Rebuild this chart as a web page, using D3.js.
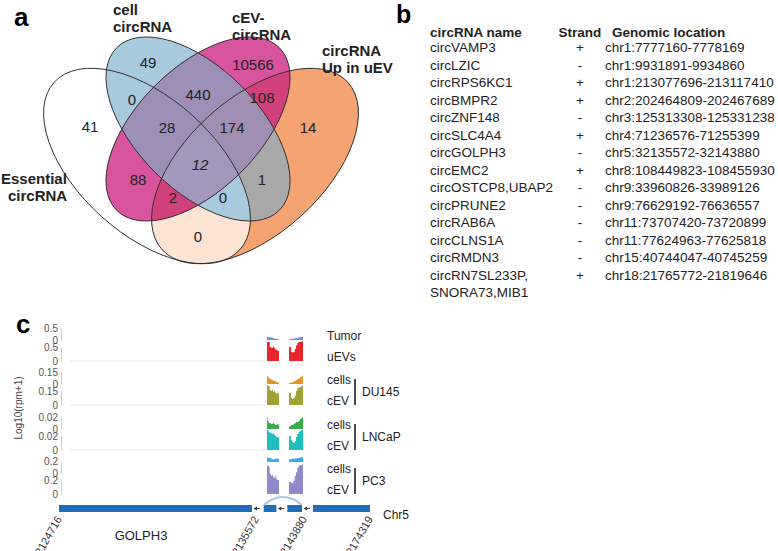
<!DOCTYPE html>
<html><head><meta charset="utf-8">
<script src="https://cdn.jsdelivr.net/npm/d3@7"></script>
<style>body{margin:0;background:#fff} svg{font-family:Arial,"Liberation Sans",sans-serif}</style>
</head><body><svg id="chart" width="778" height="551"></svg>
<script>
// ---------- Panel a data ----------
const vennSetLabels = [["Essential","circRNA"],["cell","circRNA"],["cEV-","circRNA"],["circRNA","Up in uEV"]];
const vennSetKeys = ["A","B","C","D"];
const vennRegions = ["A","B","C","D","AB","AC","AD","BC","BD","CD","ABC","ABD","ACD","BCD","ABCD"];
const vennCounts  = [41, 49, 10566, 14, 0, 88, 0, 440, 1, 108, 28, 0, 2, 174, 12];

// ---------- Panel b data ----------
const circNames = ["circVAMP3","circLZIC","circRPS6KC1","circBMPR2","circZNF148","circSLC4A4","circGOLPH3","circEMC2","circOSTCP8,UBAP2","circPRUNE2","circRAB6A","circCLNS1A","circRMDN3","circRN7SL233P,\nSNORA73,MIB1"];
const circStrands = ["+","-","+","+","-","+","-","+","-","-","-","-","-","+"];
const circLocations = ["chr1:7777160-7778169","chr1:9931891-9934860","chr1:213077696-213117410","chr2:202464809-202467689","chr3:125313308-125331238","chr4:71236576-71255399","chr5:32135572-32143880","chr8:108449823-108455930","chr9:33960826-33989126","chr9:76629192-76636557","chr11:73707420-73720899","chr11:77624963-77625818","chr15:40744047-40745259","chr18:21765772-21819646"];

// ---------- Panel c data ----------
const geneTicks = [32124716, 32135572, 32143880, 32174319];
const geneExons = [[32124716,32135350],[32136900,32139100],[32141000,32143540],[32148000,32174319]];
const covBlocks = [[32137476,32139553],[32141284,32143707]];
const trackNames = ["Tumor","uEVs","cells","cEV","cells","cEV","cells","cEV"];
const trackMax = [0.5,0.5,0.15,0.15,0.02,0.02,0.2,0.2];
const cellLines = ["DU145","LNCaP","PC3"];
const covTumor = [[0.15,0.13,0.125,0.11,0.10,0.09,0.075,0.065,0.055,0.045,0.04,0.04],[0.04,0.04,0.045,0.05,0.06,0.07,0.08,0.09,0.10,0.12,0.13,0.14]];
const covUEV   = [[0.68,0.68,0.68,0.5,0.48,0.46,0.52,0.46,0.42,0.39,0.37,0.36],[0.5,0.5,0.32,0.3,0.32,0.43,0.55,0.64,0.68,0.68,0.7,0.71]];
const covDU145cells = [[0.1,0.094,0.075,0.063,0.056,0.05,0.044,0.038,0.031,0.025,0.019,0.013],[0.013,0.015,0.02,0.025,0.03,0.04,0.05,0.06,0.07,0.08,0.095,0.11]];
const covDU145cEV   = [[0.21,0.21,0.2,0.16,0.15,0.16,0.14,0.15,0.13,0.12,0.13,0.12],[0.13,0.13,0.075,0.065,0.075,0.1,0.15,0.18,0.19,0.19,0.2,0.21]];
const covLNCaPcells = [[0.02,0.013,0.01,0.01,0.0083,0.0083,0.01,0.0083,0.0067,0.0067,0.0083,0.0067],[0.0033,0.005,0.0067,0.0067,0.0083,0.01,0.0117,0.0117,0.0133,0.0167,0.0183,0.02]];
const covLNCaPcEV   = [[0.0286,0.0286,0.0257,0.0243,0.0243,0.0229,0.0243,0.0214,0.02,0.0186,0.0186,0.0171],[0.02,0.02,0.0143,0.0114,0.01,0.0129,0.0186,0.0229,0.0257,0.0271,0.0286,0.0286]];
const covPC3cells = [[0.26,0.26,0.25,0.25,0.24,0.23,0.23,0.23,0.24,0.24,0.24,0.23],[0.23,0.23,0.23,0.24,0.24,0.24,0.24,0.25,0.25,0.26,0.26,0.26]];
const covPC3cEV   = [[0.41,0.41,0.39,0.29,0.26,0.27,0.24,0.23,0.26,0.21,0.2,0.2],[0.17,0.17,0.16,0.16,0.19,0.26,0.31,0.37,0.4,0.41,0.41,0.43]];
const trackCoverage = [covTumor,covUEV,covDU145cells,covDU145cEV,covLNCaPcells,covLNCaPcEV,covPC3cells,covPC3cEV];

// ---------- layout / style ----------
const svg = d3.select("#chart");
const defs = svg.append("defs");
const ellipses = {
  A:{cx:147,cy:166,rx:125,ry:68,rot:42},
  B:{cx:198,cy:129,rx:115,ry:61,rot:45},
  C:{cx:198,cy:129,rx:115,ry:61,rot:-45},
  D:{cx:255,cy:166,rx:125,ry:68,rot:-42}
};
const regionColor = {A:"#ffffff",B:"#a9c9dc",C:"#d8559e",D:"#f5a372",AB:"#a9c9dc",AC:"#d8559e",AD:"#fde3d3",
  BC:"#9d8fb5",BD:"#a8a8a8",CD:"#d2407d",ABC:"#9d8fb5",ABD:"#a9c9dc",ACD:"#d2407d",BCD:"#a08eb3",ABCD:"#a397bb"};
const regionPos = {A:[90,127],B:[148,63],C:[253,65],D:[308,128],AB:[132,100],AC:[138,180],AD:[198,237],BC:[198,95],
  BD:[262,180],CD:[262,98],ABC:[167,128],ABD:[223,198],ACD:[173,198],BCD:[232,128],ABCD:[200,165]};
const ellT = e => `translate(${e.cx},${e.cy}) rotate(${e.rot})`;

// ---------- Panel a ----------
const pa = svg.append("g");
vennSetKeys.forEach(k=>{
  const e = ellipses[k];
  defs.append("clipPath").attr("id","clip"+k).append("ellipse")
    .attr("transform",ellT(e)).attr("rx",e.rx).attr("ry",e.ry);
});
vennRegions.forEach((r)=>{
  let g = pa;
  const letters = r.split("");
  letters.slice(0,-1).forEach(l=>{ g = g.append("g").attr("clip-path",`url(#clip${l})`); });
  const e = ellipses[letters[letters.length-1]];
  g.append("ellipse").attr("transform",ellT(e)).attr("rx",e.rx).attr("ry",e.ry).attr("fill",regionColor[r]);
});
vennSetKeys.forEach(k=>{
  const e = ellipses[k];
  pa.append("ellipse").attr("transform",ellT(e)).attr("rx",e.rx).attr("ry",e.ry)
    .attr("fill","none").attr("stroke","#2b2b2b").attr("stroke-width",0.9);
});
vennRegions.forEach((r,i)=>{
  pa.append("text").attr("x",regionPos[r][0]).attr("y",regionPos[r][1]).attr("dy","0.35em")
    .attr("text-anchor","middle").attr("font-size",15).attr("fill","#222")
    .attr("font-style", r==="ABCD"?"italic":"normal").text(vennCounts[i]);
});
const setLabelPos = [[1,184],[113,15],[232,23],[322,56]];
const setLabelIndent = [[0,7],[0,0],[0,0],[0,0]];
vennSetLabels.forEach((lines,i)=>{
  lines.forEach((t,j)=>{
    pa.append("text").attr("x",setLabelPos[i][0]+setLabelIndent[i][j]).attr("y",setLabelPos[i][1]+j*17)
      .attr("font-size",15).attr("font-weight","bold").attr("fill","#222").text(t);
  });
});
svg.append("text").attr("x",14).attr("y",26).attr("font-size",26).attr("font-weight","bold").text("a");
svg.append("text").attr("x",396).attr("y",23).attr("font-size",25).attr("font-weight","bold").text("b");
svg.append("text").attr("x",16).attr("y",333).attr("font-size",26).attr("font-weight","bold").text("c");

// ---------- Panel b ----------
const pb = svg.append("g").attr("font-size",13.5).attr("fill","#222");
pb.append("text").attr("x",430).attr("y",37).attr("font-weight","bold").text("circRNA name");
pb.append("text").attr("x",580).attr("y",37).attr("font-weight","bold").attr("text-anchor","middle").text("Strand");
pb.append("text").attr("x",612).attr("y",37).attr("font-weight","bold").text("Genomic location");
const rowY = d3.scaleLinear().domain([0,1]).range([52,69.5]);
circNames.forEach((n,i)=>{
  n.split("\n").forEach((line,j)=>{
    pb.append("text").attr("x",430).attr("y",rowY(i)+j*17.5).text(line);
  });
  pb.append("text").attr("x",580).attr("y",rowY(i)).attr("text-anchor","middle").text(circStrands[i]);
  pb.append("text").attr("x",605).attr("y",rowY(i)).text(circLocations[i]);
});

// ---------- Panel c ----------
const pc = svg.append("g");
const x = d3.scaleLinear().domain(geneTicks).range([59,256,304,370]);
const trackColors = ["#7193d6","#e8252b","#e1962b","#9fa136","#3aab49","#1ebdbf","#37aee8","#8f8bca"];
const groupTop = [328,372,417,461];
const topClipBottom = [342,385,429,462];
const area = d3.area().curve(d3.curveStep);

trackCoverage.forEach((cov,t)=>{
  const gi = Math.floor(t/2), isTop = t%2===0;
  const G = groupTop[gi];
  const y = d3.scaleLinear().domain([0,trackMax[t]]).range(isTop ? [G+12,G] : [G+33,G+19]);
  const g = pc.append("g");
  if (isTop) {
    const id = "tclip"+gi;
    defs.append("clipPath").attr("id",id).append("rect").attr("x",0).attr("y",G-20).attr("width",400).attr("height",topClipBottom[gi]-(G-20));
    g.attr("clip-path",`url(#${id})`);
  } else if (gi<3) {
    pc.append("line").attr("x1",70).attr("x2",266).attr("y1",y(0)).attr("y2",y(0)).attr("stroke","#e2e2e2").attr("stroke-width",0.8);
  }
  cov.forEach((vals,b)=>{
    const [s,e] = covBlocks[b];
    const pts = vals.map((v,i)=>({p:s+(e-s)*i/(vals.length-1), v}));
    area.x(d=>x(d.p)).y0(y(0)).y1(d=>y(d.v));
    g.append("path").attr("d",area(pts)).attr("fill",trackColors[t]);
  });
  const ax = pc.append("g").attr("transform","translate(61,0)")
    .call(d3.axisLeft(y).tickValues([0,trackMax[t]]).tickFormat(d3.format("~g")).tickSize(0).tickSizeOuter(0).tickPadding(3));
  ax.select(".domain").attr("stroke","#cfcfcf");
  ax.selectAll("text").attr("font-size",10).attr("fill","#555").attr("font-family","Arial, Liberation Sans, sans-serif");
  pc.append("text").attr("x",327).attr("y",G+(isTop?8:29)).attr("dy","0.35em")
    .attr("font-size",12).attr("fill","#222").text(trackNames[t]);
});
cellLines.forEach((c,i)=>{
  const G = groupTop[i+1];
  pc.append("line").attr("x1",355).attr("x2",355).attr("y1",G+7).attr("y2",G+33).attr("stroke","#111").attr("stroke-width",1.5);
  pc.append("text").attr("x",362).attr("y",G+20).attr("dy","0.35em").attr("font-size",12).attr("fill","#222").text(c);
});
pc.append("text").attr("transform","translate(22,408) rotate(-90)").attr("text-anchor","middle")
  .attr("font-size",10).attr("fill","#444").text("Log10(rpm+1)");

// gene model
const gy = 505, gh = 7;
geneExons.forEach((ex,i)=>{
  pc.append("rect").attr("x",x(ex[0])).attr("y",gy).attr("width",x(ex[1])-x(ex[0])).attr("height",gh).attr("fill","#1f6db6");
  if (i<geneExons.length-1) {
    const a = x(ex[1]), b = x(geneExons[i+1][0]), cy = gy+gh/2;
    pc.append("path").attr("d",`M${a+5},${cy-2}L${a+1.5},${cy}L${a+5},${cy+2}Z`).attr("fill","#333");
    pc.append("line").attr("x1",a+5).attr("x2",b-1).attr("y1",cy).attr("y2",cy)
      .attr("stroke","#444").attr("stroke-width",1).attr("stroke-dasharray","3,3");
  }
});
{
  const a = x(geneExons[1][0]), b = x(geneExons[2][1]);
  pc.append("path").attr("d",`M${a},${gy}Q${(a+b)/2},${gy-16} ${b},${gy}`).attr("fill","none")
    .attr("stroke","#a8c6e8").attr("stroke-width",2);
}
geneTicks.forEach(t=>{
  pc.append("text").attr("transform",`translate(${x(t)},517) rotate(-60)`).attr("text-anchor","end")
    .attr("dy","0.35em").attr("font-size",11).attr("fill","#333").text(t);
});
pc.append("text").attr("x",141).attr("y",535).attr("dy","0.35em").attr("text-anchor","middle").attr("font-size",13).attr("fill","#222").text("GOLPH3");
pc.append("text").attr("x",383).attr("y",515).attr("dy","0.35em").attr("font-size",12).attr("fill","#222").text("Chr5");
</script></body></html>
